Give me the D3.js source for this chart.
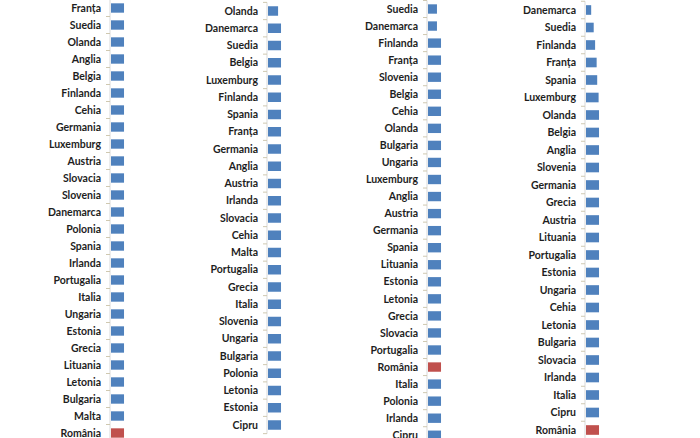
<!DOCTYPE html>
<html>
<head>
<meta charset="utf-8">
<script src="https://cdn.jsdelivr.net/npm/d3@7"></script>
<style>
  body { margin: 0; background: #fff; }
  text { font-family: Lato, "Liberation Sans", sans-serif; }
</style>
</head>
<body>
<div id="chart"></div>
<script>
// four ranked lists, one per panel (values: relative bar length)
var countries1 = ['Franța', 'Suedia', 'Olanda', 'Anglia', 'Belgia', 'Finlanda', 'Cehia', 'Germania', 'Luxemburg', 'Austria', 'Slovacia', 'Slovenia', 'Danemarca', 'Polonia', 'Spania', 'Irlanda', 'Portugalia', 'Italia', 'Ungaria', 'Estonia', 'Grecia', 'Lituania', 'Letonia', 'Bulgaria', 'Malta', 'România']
var values1 = [93, 93, 93, 93, 93, 93, 93, 93, 93, 93, 93, 93, 93, 93, 93, 93, 93, 93, 93, 93, 93, 93, 93, 93, 93, 93]

var countries2 = ['Olanda', 'Danemarca', 'Suedia', 'Belgia', 'Luxemburg', 'Finlanda', 'Spania', 'Franța', 'Germania', 'Anglia', 'Austria', 'Irlanda', 'Slovacia', 'Cehia', 'Malta', 'Portugalia', 'Grecia', 'Italia', 'Slovenia', 'Ungaria', 'Bulgaria', 'Polonia', 'Letonia', 'Estonia', 'Cipru']
var values2 = [72, 93, 93, 93, 93, 93, 93, 93, 93, 93, 93, 93, 93, 93, 93, 93, 93, 93, 93, 93, 93, 93, 93, 93, 93]

var countries3 = ['Suedia', 'Danemarca', 'Finlanda', 'Franța', 'Slovenia', 'Belgia', 'Cehia', 'Olanda', 'Bulgaria', 'Ungaria', 'Luxemburg', 'Anglia', 'Austria', 'Germania', 'Spania', 'Lituania', 'Estonia', 'Letonia', 'Grecia', 'Slovacia', 'Portugalia', 'România', 'Italia', 'Polonia', 'Irlanda', 'Cipru']
var values3 = [64, 64, 93, 93, 93, 93, 93, 93, 93, 93, 93, 93, 93, 93, 93, 93, 93, 93, 93, 93, 93, 93, 93, 93, 93, 93]

var countries4 = ['Danemarca', 'Suedia', 'Finlanda', 'Franța', 'Spania', 'Luxemburg', 'Olanda', 'Belgia', 'Anglia', 'Slovenia', 'Germania', 'Grecia', 'Austria', 'Lituania', 'Portugalia', 'Estonia', 'Ungaria', 'Cehia', 'Letonia', 'Bulgaria', 'Slovacia', 'Irlanda', 'Italia', 'Cipru', 'România']
var values4 = [37, 55, 65, 76, 80, 90, 93, 93, 93, 93, 93, 93, 93, 93, 93, 93, 93, 93, 93, 93, 93, 93, 93, 93, 93]

var highlight = 'România'

// panel placement: axis x, first row centre, row step
var panels = [
  { names: countries1, vals: values1, axisX: 110, first: 8, step: 17 },
  { names: countries2, vals: values2, axisX: 267, first: 11, step: 17.25 },
  { names: countries3, vals: values3, axisX: 427, first: 9, step: 17.05 },
  { names: countries4, vals: values4, axisX: 585, first: 10, step: 17.5 }
]

var width = 700
var height = 438

var svg = d3.select('#chart').append('svg')
  .attr('width', width)
  .attr('height', height)

panels.forEach(function (p) {
  var n = p.names.length
  var top = p.first - p.step / 2

  var y = d3.scaleBand()
    .domain(p.names)
    .range([top, top + n * p.step])
    .paddingInner(0.45)
    .paddingOuter(0.225)

  var x = d3.scaleLinear()
    .domain([0, 100])
    .range([0, 14])

  var g = svg.append('g')
    .attr('transform', 'translate(' + p.axisX + ',0)')

  // axis line
  g.append('line')
    .attr('x1', 0).attr('x2', 0)
    .attr('y1', top).attr('y2', top + n * p.step)
    .attr('stroke', '#d9d9d9')
    .attr('stroke-width', 1)

  // tick marks between categories
  g.selectAll('.tick')
    .data(d3.range(n + 1))
    .enter().append('line')
    .attr('x1', -4).attr('x2', 0)
    .attr('y1', function (i) { return top + i * p.step })
    .attr('y2', function (i) { return top + i * p.step })
    .attr('stroke', '#cfc8b0')
    .attr('stroke-width', 1)

  g.selectAll('rect')
    .data(p.names)
    .enter().append('rect')
    .attr('x', 1)
    .attr('y', function (d) { return y(d) })
    .attr('height', y.bandwidth())
    .attr('width', function (d, i) { return x(p.vals[i]) })
    .attr('fill', function (d) { return d === highlight ? '#c0504d' : '#4f81bd' })

  g.selectAll('text')
    .data(p.names)
    .enter().append('text')
    .attr('x', -9)
    .attr('y', function (d) { return y(d) + y.bandwidth() / 2 })
    .attr('dy', '0.35em')
    .attr('text-anchor', 'end')
    .attr('font-size', '10.5px')
    .attr('font-weight', 'bold')
    .attr('fill', '#1e1e1e')
    .text(function (d) { return d })
})
</script>
</body>
</html>
